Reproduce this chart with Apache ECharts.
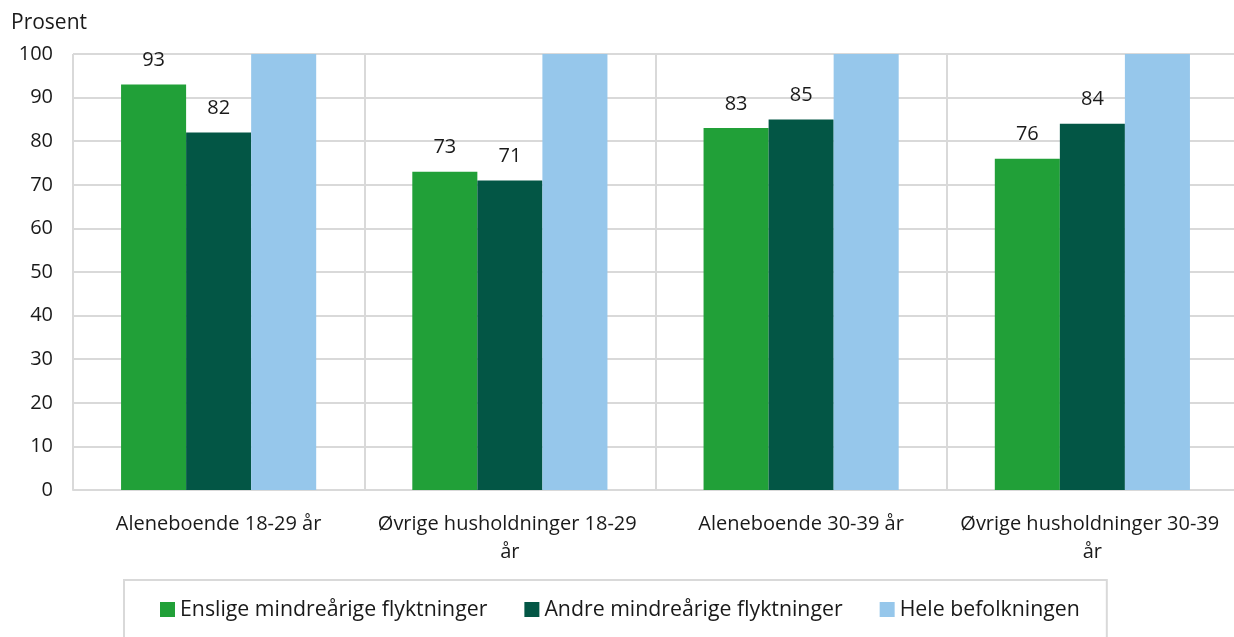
<!DOCTYPE html>
<html>
<head>
<meta charset="utf-8">
<script src="https://cdn.jsdelivr.net/npm/echarts@6/dist/echarts.min.js"></script>
<style>
  html, body { margin: 0; padding: 0; background: #fff; }
  #chart { width: 1234px; height: 637px; }
</style>
</head>
<body>
<div id="chart"></div>
<script>
// Andel (prosent) etter husholdningstype og alder
const categories = [
  'Aleneboende 18-29 år',
  'Øvrige husholdninger 18-29 år',
  'Aleneboende 30-39 år',
  'Øvrige husholdninger 30-39 år'
];
const seriesNames = [
  'Enslige mindreårige flyktninger',
  'Andre mindreårige flyktninger',
  'Hele befolkningen'
];
const enslige = [93, 73, 83, 76];
const andre = [82, 71, 85, 84];
const heleBefolkningen = [100, 100, 100, 100];
const yTicks = { min: 0, max: 100, interval: 10 };
const colors = ['#21a038', '#035645', '#96c7eb'];

const FONT = '"Open Sans", "Noto Sans", sans-serif';
const TEXT = '#1a1a1a';
const GRID = '#d9d9d9';

const chart = echarts.init(document.getElementById('chart'), null, { renderer: 'canvas' });

function barSeries(name, data, color, withLabel) {
  return {
    name: name,
    type: 'bar',
    data: data,
    barGap: '0%',
    barCategoryGap: '33%',
    itemStyle: { color: color },
    label: {
      show: withLabel,
      position: 'top',
      distance: 14,
      color: TEXT,
      fontFamily: FONT,
      fontSize: 20
    },
    emphasis: { disabled: true }
  };
}

chart.setOption({
  animation: false,
  textStyle: { fontFamily: FONT, color: TEXT },
  title: {
    text: 'Prosent',
    left: 6,
    top: 8,
    textStyle: { fontFamily: FONT, fontSize: 21, fontWeight: 'normal', color: TEXT }
  },
  // plot area runs past the right edge so the last category boundary is clipped
  grid: {
    left: 73, top: 54, width: 1165, bottom: 147,
    containLabel: false,
    outerBoundsMode: 'none'
  },
  xAxis: {
    type: 'category',
    data: categories,
    boundaryGap: true,
    axisLine: { show: true, lineStyle: { color: GRID, width: 2 } },
    axisTick: { show: false },
    splitLine: { show: true, lineStyle: { color: GRID, width: 2 } },
    axisLabel: {
      interval: 0,
      margin: 20,
      fontFamily: FONT,
      fontSize: 20,
      color: TEXT,
      width: 270,
      overflow: 'break',
      lineHeight: 28
    }
  },
  yAxis: {
    type: 'value',
    min: yTicks.min,
    max: yTicks.max,
    interval: yTicks.interval,
    axisLine: { show: false },
    axisTick: { show: false },
    splitLine: { show: true, lineStyle: { color: GRID, width: 2 } },
    axisLabel: { margin: 20, fontFamily: FONT, fontSize: 20, color: TEXT }
  },
  legend: {
    data: seriesNames,
    left: 124,
    top: 580,
    padding: [19, 27, 40, 36],
    borderColor: GRID,
    borderWidth: 2,
    itemWidth: 15,
    itemHeight: 15,
    itemGap: 37,
    icon: 'rect',
    textStyle: { fontFamily: FONT, fontSize: 21.3, color: TEXT }
  },
  series: [
    barSeries(seriesNames[0], enslige, colors[0], true),
    barSeries(seriesNames[1], andre, colors[1], true),
    barSeries(seriesNames[2], heleBefolkningen, colors[2], false)
  ]
});
</script>
</body>
</html>
